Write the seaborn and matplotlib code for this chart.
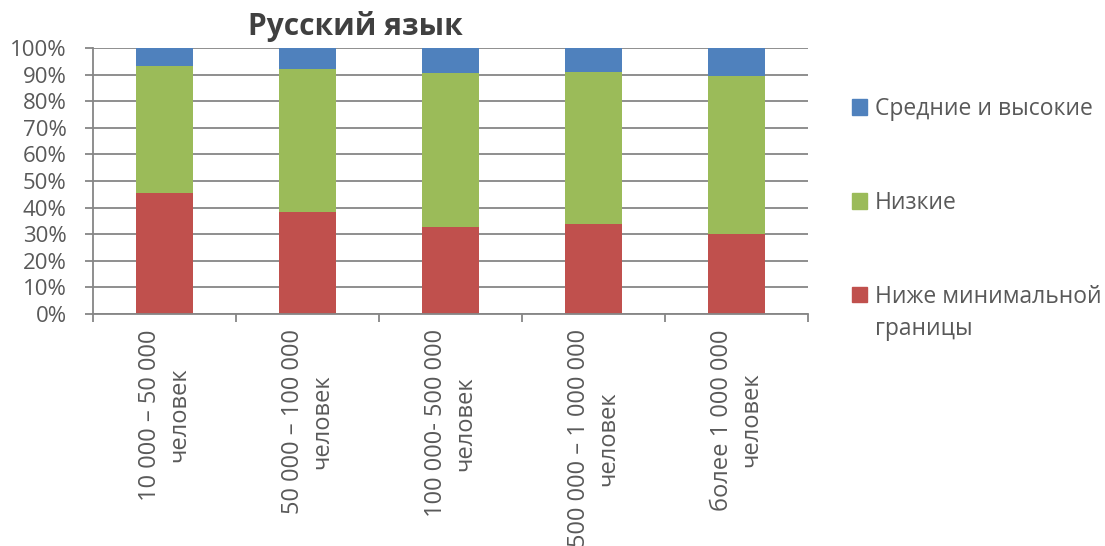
import pandas as pd
import matplotlib.pyplot as plt
import seaborn as sns
from matplotlib.patches import Patch
from matplotlib.ticker import FixedLocator

# Data (percent of students)
categories = ["10 000 – 50 000\nчеловек", "50 000 – 100 000\nчеловек",
              "100 000- 500 000\nчеловек", "500 000 – 1 000 000\nчеловек",
              "более 1 000 000\nчеловек"]
below_min = [45.6, 38.4, 32.6, 33.7, 29.9]
low = [47.8, 53.8, 58.0, 57.1, 59.6]
mid_high = [6.6, 7.8, 9.4, 9.2, 10.5]
series_names = ["Ниже минимальной границы", "Низкие", "Средние и высокие"]
colors = ["#C0504D", "#9BBB59", "#4F81BD"]
y_ticks = list(range(0, 101, 10))

df = pd.DataFrame({"cat": categories, "below": below_min, "low": low, "mid": mid_high})
df["top_low"] = df["below"] + df["low"]
df["top_mid"] = df["top_low"] + df["mid"]

sns.set_theme(style="white")
plt.rcParams["font.family"] = ["Open Sans", "DejaVu Sans"]

grid_col = "#868686"
text_col = "#595959"

fig = plt.figure(figsize=(11.05, 5.46), dpi=100)
ax = fig.add_axes([93 / 1105, 1 - 314 / 546, (808 - 93) / 1105, (314 - 48) / 546])

# stacked bars: draw cumulative totals from the top layer down
for col, color in zip(["top_mid", "top_low", "below"], colors[::-1]):
    sns.barplot(data=df, x="cat", y=col, color=color, width=0.4, saturation=1,
                errorbar=None, linewidth=0, ax=ax, zorder=2)

ax.set_xlim(-0.5, 4.5)
ax.set_ylim(0, 100)
ax.set_xlabel("")
ax.set_ylabel("")
ax.set_yticks(y_ticks)
ax.set_yticklabels([f"{v}%" for v in y_ticks])
ax.yaxis.grid(True, color=grid_col, lw=1.3)
ax.xaxis.grid(False)
ax.set_axisbelow(True)

for s in ["top", "right"]:
    ax.spines[s].set_visible(False)
for s in ["left", "bottom"]:
    ax.spines[s].set_color(grid_col)
    ax.spines[s].set_linewidth(1.3)

ax.tick_params(axis="y", left=True, length=6, width=1.3, color=grid_col,
               pad=13, labelsize=16, labelcolor=text_col)
ax.xaxis.set_minor_locator(FixedLocator([i - 0.5 for i in range(len(categories) + 1)]))
ax.tick_params(axis="x", which="minor", bottom=True, length=6, width=1.3, color=grid_col)
ax.tick_params(axis="x", which="major", bottom=False, length=0, pad=11,
               labelsize=17, labelcolor=text_col)
for lbl in ax.get_xticklabels():
    lbl.set_rotation(90)
    lbl.set_ha("center")
    lbl.set_va("top")
    lbl.set_multialignment("center")
    lbl.set_linespacing(1.3)

fig.text(355 / 1105, 1 - 27 / 546, "Русский язык", ha="center", va="center",
         fontsize=21.5, fontweight="bold", color="#404040")

handles = [Patch(color=colors[2]), Patch(color=colors[1]), Patch(color=colors[0])]
labels = [series_names[2], series_names[1], "Ниже минимальной"]
leg = fig.legend(handles, labels, loc="center left",
                 bbox_to_anchor=(852 / 1105, 1 - 203 / 546),
                 frameon=False, fontsize=16.5, labelcolor=text_col,
                 handlelength=0.65, handleheight=0.65, handletextpad=0.35,
                 labelspacing=3.05, borderpad=0, borderaxespad=0)

fig.canvas.draw()
bb = leg.get_texts()[2].get_window_extent()
fig.text(bb.x0 / 1105, ((bb.y0 + bb.y1) / 2 - 32) / 546, "границы",
         ha="left", va="center", fontsize=16.5, color=text_col)

fig.savefig("out.png", dpi=100)
plt.close()
